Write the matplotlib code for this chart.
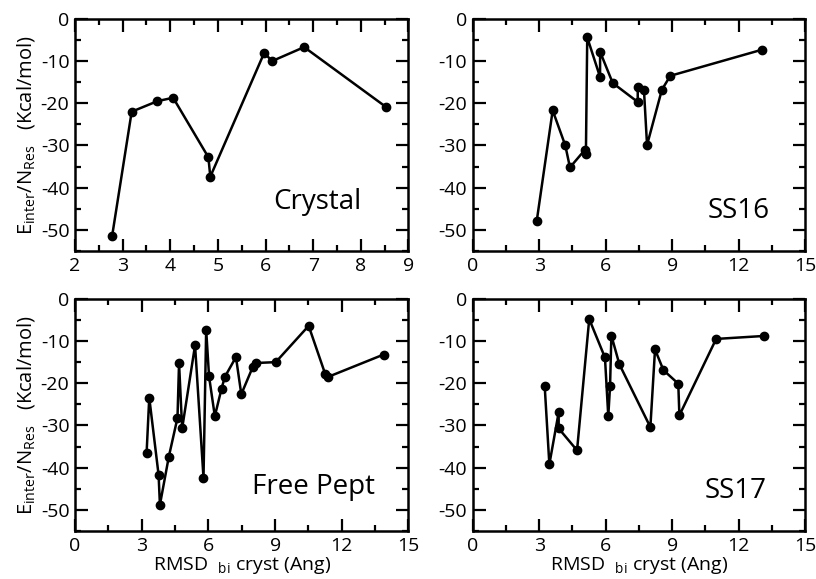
import matplotlib
matplotlib.use("Agg")
import matplotlib.pyplot as plt
from matplotlib.ticker import MultipleLocator

plt.rcParams['font.family'] = ['Open Sans', 'DejaVu Sans']
plt.rcParams['mathtext.fontset'] = 'custom'
plt.rcParams['mathtext.rm'] = 'Open Sans'
plt.rcParams['mathtext.it'] = 'Open Sans'
plt.rcParams['axes.unicode_minus'] = False

# data (RMSD in Ang, energy in Kcal/mol)
crystal_x = [2.78, 3.19, 3.73, 4.06, 4.80, 4.84, 5.97, 6.14, 6.81, 8.53]
crystal_y = [-51.4, -22.0, -19.5, -18.7, -32.8, -37.4, -8.1, -10.0, -6.7, -20.9]

ss16_x = [2.89, 3.61, 4.18, 4.39, 5.07, 5.11, 5.17, 5.75, 5.75, 6.32,
          7.45, 7.45, 7.73, 7.87, 8.54, 8.92, 13.07]
ss16_y = [-47.9, -21.7, -30.0, -35.2, -31.0, -32.0, -4.4, -13.8, -7.8, -15.2,
          -19.7, -16.1, -16.8, -29.9, -16.8, -13.5, -7.3]

free_x = [3.22, 3.34, 3.76, 3.82, 4.22, 4.61, 4.68, 4.82, 5.40, 5.78, 5.90,
          6.03, 6.29, 6.59, 6.74, 7.24, 7.48, 8.00, 8.15, 9.03, 10.51, 11.26,
          11.38, 13.88]
free_y = [-36.6, -23.4, -41.7, -48.8, -37.4, -28.2, -15.2, -30.7, -11.0, -42.4,
          -7.3, -18.4, -27.8, -21.3, -18.5, -13.8, -22.6, -16.1, -15.2, -15.0,
          -6.4, -17.9, -18.5, -13.2]

ss17_x = [3.25, 3.46, 3.88, 3.88, 4.71, 5.26, 5.97, 6.12, 6.20, 6.26, 6.62,
          8.02, 8.23, 8.61, 9.28, 9.33, 10.99, 13.14]
ss17_y = [-20.7, -39.2, -26.9, -30.7, -35.9, -4.8, -13.9, -27.8, -20.7, -8.7,
          -15.5, -30.4, -12.0, -16.9, -20.1, -27.6, -9.5, -8.8]

ylabel = r'E$_{\mathrm{inter}}$/N$_{\mathrm{Res}}$   (Kcal/mol)'
xlabel = r'RMSD  $_{\mathrm{bi}}$ cryst (Ang)'

fig = plt.figure(figsize=(8.16, 5.79), dpi=100)

w = 0.4087
h = 0.401
panels = [
    # x, y, xlim, major, name, label pos, position
    (crystal_x, crystal_y, (2, 9), 1, 'Crystal', (0.86, 0.18), [0.0919, 0.5665, w, h]),
    (ss16_x, ss16_y, (0, 15), 3, 'SS16', (0.895, 0.142), [0.5793, 0.5665, 0.4072, h]),
    (free_x, free_y, (0, 15), 3, 'Free Pept', (0.90, 0.159), [0.0919, 0.0829, w, h]),
    (ss17_x, ss17_y, (0, 15), 3, 'SS17', (0.886, 0.142), [0.5793, 0.0829, 0.4072, h]),
]

for i, (xs, ys, xlim, major, name, tpos, rect) in enumerate(panels):
    ax = fig.add_axes(rect)
    ax.plot(xs, ys, '-o', color='black', lw=1.8, ms=6)
    ax.set_xlim(*xlim)
    ax.set_ylim(-55, 0)
    ax.xaxis.set_major_locator(MultipleLocator(major))
    ax.xaxis.set_minor_locator(MultipleLocator(major / 2))
    ax.yaxis.set_major_locator(MultipleLocator(10))
    ax.yaxis.set_minor_locator(MultipleLocator(5))
    ax.tick_params(which='both', direction='in', top=True, right=True,
                   width=1.6, labelsize=14, pad=4)
    ax.tick_params(which='major', length=9)
    ax.tick_params(which='minor', length=4.5)
    for s in ax.spines.values():
        s.set_linewidth(1.8)
    ax.text(tpos[0], tpos[1], name, transform=ax.transAxes, ha='right',
            va='baseline', fontsize=20)
    if i % 2 == 0:
        ax.set_ylabel(ylabel, fontsize=14.5, labelpad=3)
    if i >= 2:
        ax.set_xlabel(xlabel, fontsize=14, labelpad=0)

fig.savefig('out.png', dpi=100)
